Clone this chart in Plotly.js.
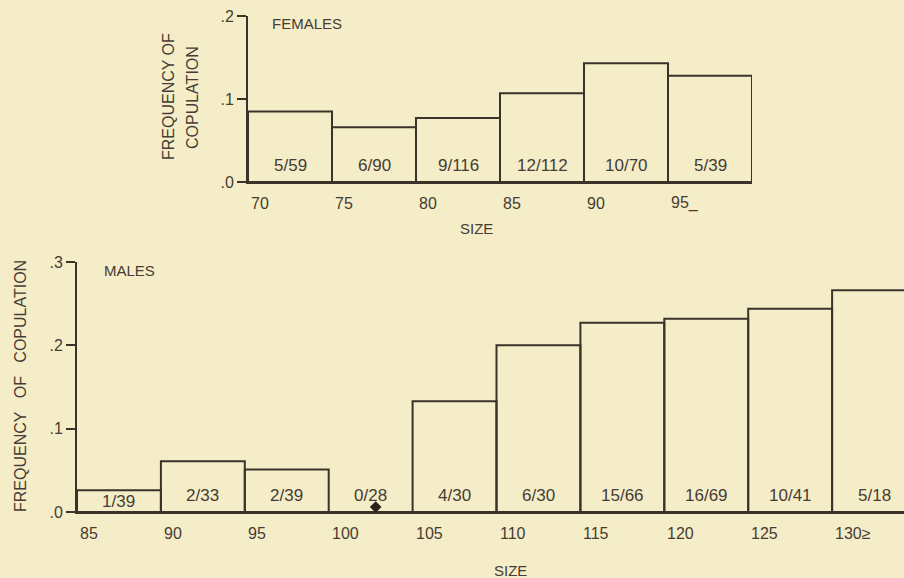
<!DOCTYPE html>
<html>
<head>
<meta charset="utf-8">
<script src="https://cdn.plot.ly/plotly-3.0.1.min.js"></script>
<style>html,body{margin:0;padding:0;background:#f5edc8;}</style>
</head>
<body>
<div id="chart" style="width:904px;height:578px;"></div>
<script>
// ---- data ----
const femaleEdges = [70, 75, 80, 85, 90, 95];
const femaleFreq = [0.085, 0.066, 0.077, 0.107, 0.143, 0.128];
const femaleCounts = ['5/59', '6/90', '9/116', '12/112', '10/70', '5/39'];
const femaleTickLabels = ['70', '75', '80', '85', '90', '95_'];

const maleEdges = [85, 90, 95, 100, 105, 110, 115, 120, 125, 130];
const maleFreq = [0.026, 0.061, 0.051, 0, 0.133, 0.200, 0.227, 0.232, 0.244, 0.266];
const maleCounts = ['1/39', '2/33', '2/39', '0/28', '4/30', '6/30', '15/66', '16/69', '10/41', '5/18'];
const maleTickLabels = ['85', '90', '95', '100', '105', '110', '115', '120', '125', '130\u2265'];

const markerX = [102.8];
const markerY = [0.006];

const femaleYTicks = [0, 0.1, 0.2];
const femaleYLabels = ['.0', '.1', '.2'];
const maleYTicks = [0, 0.1, 0.2, 0.3];
const maleYLabels = ['.0', '.1', '.2', '.3'];

const binWidth = 5;

// ---- style ----
const ink = '#3b322a';
const txt = '#463c33';
const bg = '#f5edc8';
const FONT = 'Liberation Sans, Arial, sans-serif';

const traces = [
  {
    type: 'bar', x: femaleEdges, y: femaleFreq, width: binWidth, offset: 0,
    xaxis: 'x', yaxis: 'y',
    marker: {color: 'rgba(0,0,0,0)', line: {color: ink, width: 2}},
    hoverinfo: 'skip', showlegend: false
  },
  {
    type: 'bar', x: maleEdges, y: maleFreq, width: binWidth, offset: 0,
    xaxis: 'x2', yaxis: 'y2',
    marker: {color: 'rgba(0,0,0,0)', line: {color: ink, width: 2}},
    hoverinfo: 'skip', showlegend: false
  },
  {
    type: 'scatter', mode: 'markers', x: markerX, y: markerY,
    xaxis: 'x2', yaxis: 'y2',
    marker: {symbol: 'diamond', size: 9, color: '#2a221c'},
    hoverinfo: 'skip', showlegend: false, cliponaxis: false
  }
];

const annotations = [];
function addTickLabels(edges, labels, xref, yref) {
  edges.forEach((e, i) => annotations.push({
    xref: xref, yref: yref, x: e, y: 0, text: labels[i],
    xanchor: 'left', yanchor: 'middle', xshift: 1, yshift: -21,
    showarrow: false, font: {family: FONT, size: 16, color: txt}
  }));
}
function addCounts(edges, counts, values, pxPerUnit, xref, yref) {
  edges.forEach((e, i) => {
    const h = values[i] * pxPerUnit;
    const shift = h > 0 ? Math.min(17, h / 2) : 17;
    annotations.push({
      xref: xref, yref: yref, x: e + binWidth / 2, y: 0, text: counts[i],
      xanchor: 'center', yanchor: 'middle', yshift: shift,
      showarrow: false, font: {family: FONT, size: 17, color: txt}
    });
  });
}
addTickLabels(femaleEdges, femaleTickLabels, 'x', 'y');
addTickLabels(maleEdges, maleTickLabels, 'x2', 'y2');
addCounts(femaleEdges, femaleCounts, femaleFreq, 166 / 0.2, 'x', 'y');
addCounts(maleEdges, maleCounts, maleFreq, 250 / 0.3, 'x2', 'y2');

const capFont = {family: FONT, size: 15, color: txt};
const titleFont = {family: FONT, size: 16, color: txt};
annotations.push(
  {xref: 'paper', yref: 'paper', x: 270 / 904, y: 1 - 24 / 578, text: 'FEMALES',
   xanchor: 'left', yanchor: 'middle', showarrow: false, font: capFont},
  {xref: 'paper', yref: 'paper', x: 102 / 904, y: 1 - 270 / 578, text: 'MALES',
   xanchor: 'left', yanchor: 'middle', showarrow: false, font: capFont},
  {xref: 'paper', yref: 'paper', x: 168 / 904, y: 1 - 97 / 578, text: 'FREQUENCY OF',
   textangle: -90, xanchor: 'center', yanchor: 'middle', showarrow: false, font: titleFont},
  {xref: 'paper', yref: 'paper', x: 193 / 904, y: 1 - 98 / 578, text: 'COPULATION',
   textangle: -90, xanchor: 'center', yanchor: 'middle', showarrow: false, font: titleFont},
  {xref: 'paper', yref: 'paper', x: 20 / 904, y: 1 - 386 / 578,
   text: 'FREQUENCY\u00A0\u00A0\u00A0OF\u00A0\u00A0\u00A0COPULATION',
   textangle: -90, xanchor: 'center', yanchor: 'middle', showarrow: false, font: titleFont},
  {xref: 'paper', yref: 'paper', x: 477 / 904, y: 1 - 229 / 578, text: 'SIZE',
   xanchor: 'center', yanchor: 'middle', showarrow: false, font: capFont},
  {xref: 'paper', yref: 'paper', x: 510 / 904, y: 1 - 570 / 578, text: 'SIZE',
   xanchor: 'center', yanchor: 'middle', showarrow: false, font: capFont}
);

const xBase = {
  showgrid: false, zeroline: false, showline: true, linecolor: ink, linewidth: 2,
  ticks: '', showticklabels: false, fixedrange: true
};
const yBase = {
  showgrid: false, zeroline: false, showline: true, linecolor: ink, linewidth: 2,
  ticks: 'outside', ticklen: 9, tickwidth: 2, tickcolor: ink,
  tickfont: {family: FONT, size: 16, color: txt}, fixedrange: true
};

const layout = {
  width: 904, height: 578,
  margin: {l: 0, r: 0, t: 0, b: 0},
  paper_bgcolor: bg, plot_bgcolor: bg,
  bargap: 0,
  xaxis: Object.assign({}, xBase, {domain: [248 / 904, 752 / 904], range: [70, 100], anchor: 'y'}),
  yaxis: Object.assign({}, yBase, {domain: [1 - 182 / 578, 1 - 16 / 578], range: [0, 0.2],
    tickvals: femaleYTicks, ticktext: femaleYLabels, anchor: 'x'}),
  xaxis2: Object.assign({}, xBase, {domain: [77 / 904, 1], range: [85, 85 + 827 / 16.78], anchor: 'y2'}),
  yaxis2: Object.assign({}, yBase, {domain: [1 - 512 / 578, 1 - 262 / 578], range: [0, 0.3],
    tickvals: maleYTicks, ticktext: maleYLabels, anchor: 'x2'}),
  annotations: annotations,
  showlegend: false
};

Plotly.newPlot('chart', traces, layout, {displayModeBar: false, staticPlot: true});
</script>
</body>
</html>
